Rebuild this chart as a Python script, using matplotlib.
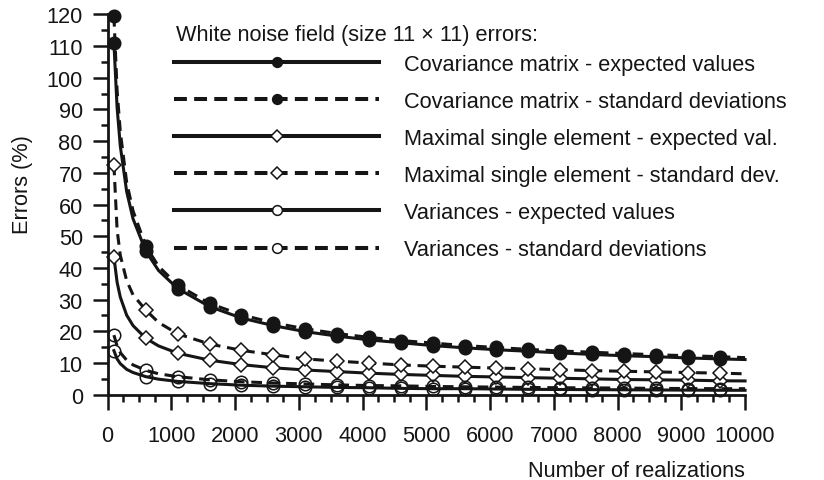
import matplotlib
matplotlib.use("Agg")
import matplotlib.pyplot as plt
from matplotlib.lines import Line2D
from matplotlib.ticker import MultipleLocator

plt.rcParams["font.family"] = ["Liberation Sans", "DejaVu Sans"]

# number of realizations (line samples); markers every 500 starting at 100
realizations = [100, 150, 200, 300, 400, 600, 800, 1100, 1600, 2100, 2600, 3100,
                3600, 4100, 4600, 5100, 5600, 6100, 6600, 7100, 7600, 8100,
                8600, 9100, 9600, 10000]

cov_expected = [111, 90.6, 78.5, 64.1, 55.5, 45.3, 39.2, 33.5, 27.8, 24.2, 21.8, 19.9,
                18.5, 17.3, 16.4, 15.5, 14.8, 14.2, 13.7, 13.2, 12.7, 12.3,
                12.0, 11.6, 11.3, 11.1]
cov_std = [119.5, 96, 83, 67, 58, 46.9, 40.5, 34.6, 28.8, 25.2, 22.7, 20.8,
           19.3, 18.1, 17.1, 16.3, 15.5, 14.9, 14.3, 13.8, 13.4, 13.0,
           12.6, 12.3, 12.0, 11.7]
max_expected = [43.5, 35.5, 30.8, 25.1, 21.8, 17.8, 15.4, 13.1, 10.9, 9.5, 8.5, 7.8,
                7.3, 6.8, 6.4, 6.1, 5.8, 5.6, 5.4, 5.2, 5.0, 4.8,
                4.7, 4.6, 4.4, 4.35]
max_std = [72.6, 52, 44, 36, 31.5, 26.7, 22.8, 19.2, 16.0, 14.0, 12.6, 11.3,
           10.6, 10.0, 9.4, 9.0, 8.7, 8.4, 8.2, 7.9, 7.6, 7.4,
           7.2, 7.0, 6.8, 6.6]
var_expected = [13.9, 11.3, 9.8, 8.0, 7.0, 5.7, 4.9, 4.2, 3.5, 3.0, 2.7, 2.5,
                2.3, 2.2, 2.0, 1.9, 1.9, 1.8, 1.7, 1.65, 1.6, 1.55,
                1.5, 1.45, 1.4, 1.4]
var_std = [18.8, 15.4, 13.3, 10.9, 9.4, 7.7, 6.6, 5.7, 4.7, 4.1, 3.7, 3.4,
           3.1, 2.9, 2.8, 2.6, 2.5, 2.4, 2.3, 2.2, 2.15, 2.1,
           2.0, 1.95, 1.9, 1.9]

labels = [
    "Covariance matrix - expected values",
    "Covariance matrix - standard deviations",
    "Maximal single element - expected val.",
    "Maximal single element - standard dev.",
    "Variances - expected values",
    "Variances - standard deviations",
]
title = "White noise field (size 11 \u00d7 11) errors:"

INK = "#151515"
FS = 15.7

mark_idx = [i for i, n in enumerate(realizations) if n <= 9600 and (n - 100) % 500 == 0]

series = [
    (cov_expected, "-", "o", INK),
    (cov_std, "--", "o", INK),
    (max_expected, "-", "D", "white"),
    (max_std, "--", "D", "white"),
    (var_expected, "-", "o", "none"),
    (var_std, "--", "o", "none"),
]

fig = plt.figure(figsize=(8.24, 4.81), dpi=100)
ax = fig.add_axes([0.1305, 0.1773, 0.7737, 0.7908])

for vals, ls, mk, fc in series:
    ax.plot(realizations, vals, linestyle=ls, color=INK, linewidth=2.2,
            dashes=(3.5, 2.2) if ls == "--" else (None, None),
            marker=mk, markevery=mark_idx, markersize=9 if mk == "o" else 7.5,
            markerfacecolor=fc, markeredgecolor=INK, markeredgewidth=1.1,
            clip_on=False)

ax.set_xlim(0, 10000)
ax.set_ylim(0, 120)
ax.xaxis.set_major_locator(MultipleLocator(1000))
ax.xaxis.set_minor_locator(MultipleLocator(250))
ax.yaxis.set_major_locator(MultipleLocator(10))
ax.yaxis.set_minor_locator(MultipleLocator(5))

for side in ("top", "right"):
    ax.spines[side].set_visible(False)
for side in ("left", "bottom"):
    ax.spines[side].set_linewidth(2.0)
    ax.spines[side].set_color(INK)

ax.tick_params(which="major", direction="out", length=10.8, width=1.8,
               color=INK, labelsize=FS, labelcolor=INK, pad=7)
ax.tick_params(which="minor", direction="out", length=5, width=1.8, color=INK)
ax.tick_params(axis="x", which="major", pad=11)

ax.set_xlabel("Number of realizations", fontsize=FS, color=INK, loc="right")
ax.xaxis.set_label_coords(1.0, -0.172)
ax.set_ylabel("Errors (%)", fontsize=FS, color=INK)
ax.yaxis.set_label_coords(-0.117, 0.555)

# legend drawn with its own small markers
handles = []
for vals, ls, mk, fc in series:
    handles.append(Line2D([], [], linestyle=ls, color=INK, linewidth=2.9,
                          dashes=(3.2, 1.8) if ls == "--" else (None, None),
                          marker=mk, markersize=7 if mk == "o" else 6,
                          markerfacecolor=fc if fc != "none" else "white",
                          markeredgecolor=INK, markeredgewidth=1.1))

ax.text(0.107, 0.975, title, transform=ax.transAxes, fontsize=FS, color=INK,
        ha="left", va="top")
ax.legend(handles, labels, loc="upper left", bbox_to_anchor=(0.1043, 0.897),
          frameon=False, fontsize=FS, handlelength=9.4, handletextpad=1.15,
          labelspacing=0.74, borderpad=0, borderaxespad=0, numpoints=1,
          labelcolor=INK)

fig.savefig("out.png", dpi=100)
